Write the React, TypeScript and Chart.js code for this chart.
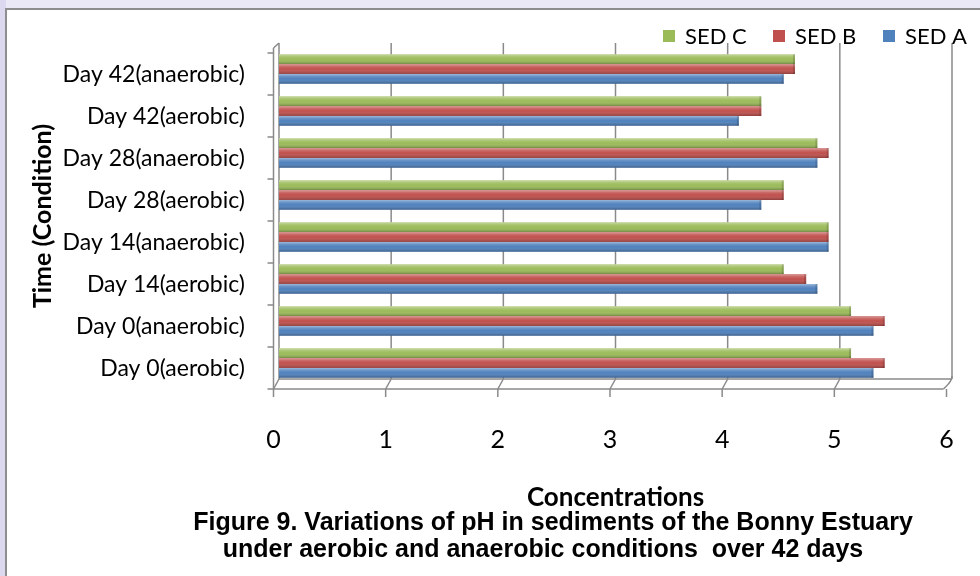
import React, { useEffect, useRef } from 'react';
import { Chart, registerables } from 'chart.js';

Chart.register(...registerables);

// ---- data ----
const categories = [
  'Day 42(anaerobic)',
  'Day 42(aerobic)',
  'Day 28(anaerobic)',
  'Day 28(aerobic)',
  'Day 14(anaerobic)',
  'Day 14(aerobic)',
  'Day 0(anaerobic)',
  'Day 0(aerobic)',
];
const sedC = [4.6, 4.3, 4.8, 4.5, 4.9, 4.5, 5.1, 5.1];
const sedB = [4.6, 4.3, 4.9, 4.5, 4.9, 4.7, 5.4, 5.4];
const sedA = [4.5, 4.1, 4.8, 4.3, 4.9, 4.8, 5.3, 5.3];
const seriesNames = ['SED C', 'SED B', 'SED A'];
const seriesColors = ['#9BBB59', '#C0504D', '#4F81BD'];
const xTicks = [0, 1, 2, 3, 4, 5, 6];
const xTitle = 'Concentrations';
const yTitle = 'Time (Condition)';
const captionLines = [
  'Figure 9. Variations of pH in sediments of the Bonny Estuary',
  'under aerobic and anaerobic conditions  over 42 days',
];

const FONT = 'Lato';
const WALL = '#8a8a8a';
const DEPTH = 5;
const FRONT_DX = -5.5;

const framePlugin = {
  id: 'frame',
  beforeDraw(chart: any) {
    const { ctx, width, height } = chart;
    ctx.save();
    ctx.fillStyle = '#ebe9f6';
    ctx.fillRect(0, 0, width, height);
    ctx.fillStyle = '#dcd8f0';
    ctx.fillRect(0, 0, 6, height);
    ctx.fillStyle = '#ffffff';
    ctx.fillRect(7, 10, width - 7, height - 10);
    ctx.strokeStyle = '#8e8e8e';
    ctx.lineWidth = 2;
    ctx.beginPath();
    ctx.moveTo(6, height);
    ctx.lineTo(6, 9);
    ctx.lineTo(width, 9);
    ctx.stroke();
    ctx.restore();
  },
};

const wallsPlugin = {
  id: 'walls',
  beforeDatasetsDraw(chart: any) {
    const { ctx, chartArea } = chart;
    const xs = chart.scales.x;
    const ys = chart.scales.y;
    const { top, bottom } = chartArea;
    const bTop = top - DEPTH;
    const bBot = bottom - DEPTH;
    const fBot = bottom + DEPTH;
    const bx = (v: number) => xs.getPixelForValue(v);
    const fx = (v: number) => xs.getPixelForValue(v) + FRONT_DX;
    const first = xTicks[0];
    const last = xTicks[xTicks.length - 1];
    const line = (x1: number, y1: number, x2: number, y2: number) => {
      ctx.beginPath();
      ctx.moveTo(x1, y1);
      ctx.lineTo(x2, y2);
      ctx.stroke();
    };
    ctx.save();
    ctx.strokeStyle = WALL;
    ctx.lineWidth = 1.5;
    // back wall gridlines
    xTicks.forEach((v) => line(bx(v), bTop, bx(v), bBot));
    // floor
    line(bx(first), bBot, bx(last), bBot);
    line(fx(first), fBot, fx(last) - 3, fBot);
    ctx.beginPath();
    ctx.moveTo(bx(last), bBot - 3);
    ctx.quadraticCurveTo(bx(last), bBot + 2, fx(last) - 1, fBot - 2);
    ctx.lineTo(fx(last) - 3, fBot);
    ctx.stroke();
    xTicks.slice(0, -1).forEach((v) => line(bx(v), bBot, fx(v), fBot));
    // left wall front edge
    line(fx(first), top, fx(first), fBot);
    line(fx(first), top, bx(first), bTop);
    // y ticks (front)
    const n = ys.ticks.length;
    const band = (bottom - top) / n;
    for (let k = 0; k <= n; k++) {
      const yy = top + k * band + DEPTH;
      line(fx(first) - 6, yy, fx(first), yy);
    }
    // x ticks (front)
    xTicks.forEach((v) => line(fx(v), fBot, fx(v), fBot + 8));
    ctx.restore();
  },
};

const shadePlugin = {
  id: 'shade',
  afterDatasetsDraw(chart: any) {
    const { ctx } = chart;
    ctx.save();
    chart.data.datasets.forEach((_: any, di: number) => {
      const meta = chart.getDatasetMeta(di);
      meta.data.forEach((el: any) => {
        const { x, y, base, height } = el.getProps(['x', 'y', 'base', 'height'], true);
        const y0 = y - height / 2;
        const g = ctx.createLinearGradient(0, y0, 0, y0 + height);
        g.addColorStop(0, 'rgba(255,255,255,0.45)');
        g.addColorStop(0.25, 'rgba(255,255,255,0.15)');
        g.addColorStop(0.5, 'rgba(255,255,255,0)');
        g.addColorStop(1, 'rgba(0,0,0,0.28)');
        ctx.fillStyle = g;
        ctx.fillRect(base, y0, x - base, height);
        ctx.fillStyle = 'rgba(0,0,0,0.15)';
        ctx.fillRect(x - 2, y0, 2, height);
      });
    });
    ctx.restore();
  },
};

const legendPlugin = {
  id: 'customLegend',
  afterDraw(chart: any) {
    const { ctx } = chart;
    ctx.save();
    ctx.font = `22px ${FONT}`;
    ctx.textBaseline = 'middle';
    ctx.textAlign = 'left';
    chart.data.datasets.forEach((ds: any, i: number) => {
      const bx = 663 + 110 * i;
      ctx.fillStyle = ds.backgroundColor;
      ctx.fillRect(bx, 30, 12, 12);
      ctx.fillStyle = '#000';
      ctx.fillText(ds.label, bx + 22, 37);
    });
    ctx.restore();
  },
};

const captionPlugin = {
  id: 'caption',
  afterDraw(chart: any) {
    const { ctx } = chart;
    ctx.save();
    ctx.font = 'bold 25px "Liberation Sans", Arial, sans-serif';
    ctx.fillStyle = '#000';
    ctx.textAlign = 'center';
    ctx.textBaseline = 'middle';
    ctx.fillText(captionLines[0], 553, 523);
    ctx.fillText(captionLines[1], 543, 550);
    ctx.restore();
  },
};

export default function App() {
  const ref = useRef<HTMLCanvasElement | null>(null);

  useEffect(() => {
    if (!ref.current) return;
    Chart.defaults.font.family = FONT;
    Chart.defaults.color = '#000';
    const seriesValues = [sedC, sedB, sedA];
    const chart = new Chart(ref.current, {
      type: 'bar',
      data: {
        labels: categories,
        datasets: seriesNames.map((name, i) => ({
          label: name,
          data: seriesValues[i],
          backgroundColor: seriesColors[i],
          borderWidth: 0,
          categoryPercentage: 0.7,
          barPercentage: 1,
        })),
      },
      options: {
        indexAxis: 'y',
        animation: false,
        responsive: false,
        devicePixelRatio: 1,
        layout: { padding: { top: 48, right: 28, bottom: 0, left: 0 } },
        plugins: {
          legend: { display: false },
          tooltip: { enabled: false },
          title: { display: false },
        },
        scales: {
          x: {
            type: 'linear',
            min: 0,
            max: 6,
            afterBuildTicks: (scale: any) => {
              scale.ticks = xTicks.map((v) => ({ value: v }));
            },
            grid: { display: false, drawTicks: false },
            border: { display: false },
            ticks: {
              font: { family: FONT, size: 25 },
              color: '#000',
              padding: 41,
              labelOffset: FRONT_DX,
              maxRotation: 0,
            },
            title: {
              display: true,
              text: xTitle,
              font: { family: FONT, size: 26, weight: 'bold' },
              color: '#000',
              padding: { top: 0, bottom: 63 },
            },
            afterFit: (scale: any) => {
              scale.height = 192;
              scale.paddingLeft = 0;
              scale.paddingRight = 0;
            },
          },
          y: {
            type: 'category',
            grid: { display: false, drawTicks: false },
            border: { display: false },
            ticks: {
              font: { family: FONT, size: 23 },
              color: '#000',
              padding: 34,
              labelOffset: 6,
            },
            title: {
              display: true,
              text: yTitle,
              font: { family: FONT, size: 25, weight: 'bold' },
              color: '#000',
              padding: { top: 28, bottom: 0 },
            },
            afterFit: (scale: any) => {
              scale.width = 279;
              scale.paddingTop = 0;
              scale.paddingBottom = 0;
            },
          },
        },
      },
      plugins: [framePlugin, wallsPlugin, shadePlugin, legendPlugin, captionPlugin],
    } as any);

    const fonts = (document as any).fonts;
    if (fonts && fonts.load) {
      Promise.all([
        fonts.load(`23px ${FONT}`),
        fonts.load(`bold 25px ${FONT}`),
        fonts.load('bold 25px "Liberation Sans"'),
      ])
        .then(() => chart.update())
        .catch(() => {});
    }
    return () => chart.destroy();
  }, []);

  return (
    <div style={{ position: 'absolute', left: 0, top: 0, width: 980, height: 576 }}>
      <canvas ref={ref} width={980} height={576} style={{ display: 'block', width: 980, height: 576 }} />
    </div>
  );
}
